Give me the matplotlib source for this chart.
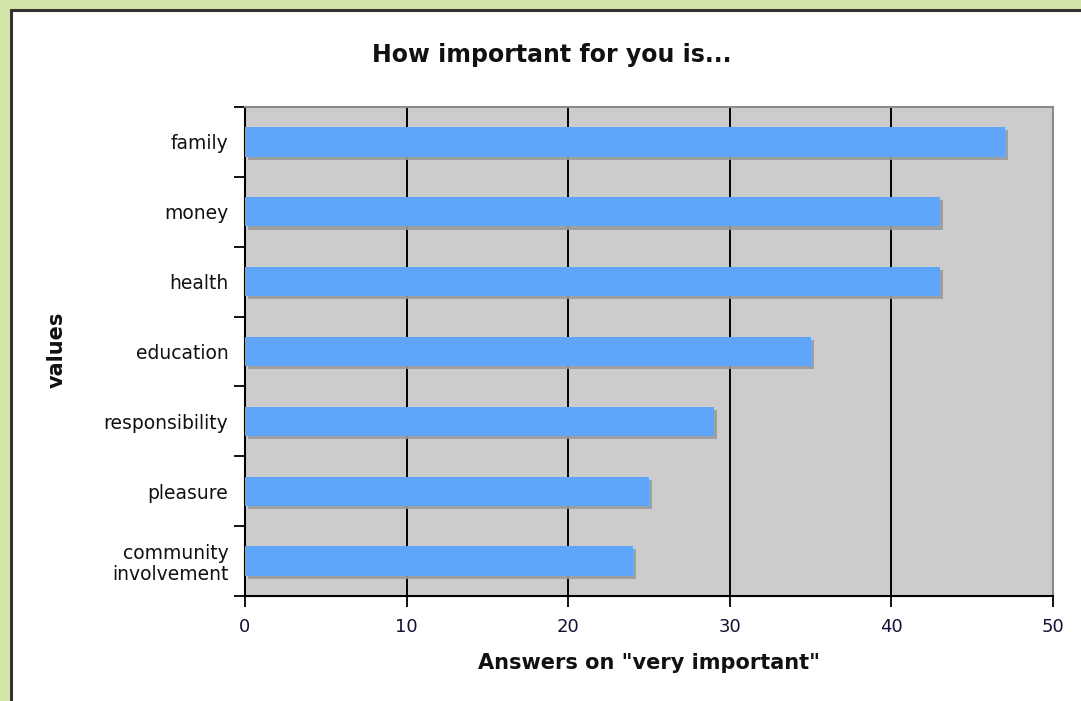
import matplotlib.pyplot as plt
import matplotlib.patheffects as pe
from matplotlib.patches import Rectangle
import numpy as np

# values
categories = ['family', 'money', 'health', 'education', 'responsibility',
              'pleasure', 'community\ninvolvement']
answers = [47, 43, 43, 35, 29, 25, 24]
xticks = [0, 10, 20, 30, 40, 50]

W, H = 1081, 701
fig = plt.figure(figsize=(W / 100, H / 100), dpi=100)
fig.patch.set_facecolor('#d3e8a8')

# white panel with dark frame (cropped on right/bottom)
fig.patches.append(Rectangle((10.5 / W, -0.05), 1.1, (H - 9.5) / H + 0.05,
                             transform=fig.transFigure, facecolor='white',
                             edgecolor='#333333', linewidth=2.2, zorder=-1))

ax = fig.add_axes([245 / W, (H - 596) / H, (1053 - 245) / W, (596 - 107) / H])
ax.set_zorder(2)
ax.set_facecolor('#cccccc')

y = np.arange(len(categories))
bars = ax.barh(y, answers, height=0.42, color='#5fa5fa', zorder=3)
for b in bars:
    b.set_path_effects([pe.SimplePatchShadow(offset=(2.2, -2.2),
                                             shadow_rgbFace='#9a9a9a', alpha=0.9),
                        pe.Normal()])

ax.set_xlim(0, 50)
ax.set_ylim(len(categories) - 0.5, -0.5)
ax.set_xticks(xticks)
ax.set_xticklabels([str(t) for t in xticks], fontsize=13, color='#111133')
ax.set_yticks(y)
ax.set_yticklabels(categories, fontsize=13.5, color='#111111', linespacing=1.1)
ax.set_yticks(np.arange(-0.5, len(categories), 1), minor=True)
ax.tick_params(axis='y', which='major', length=0, pad=12)
ax.tick_params(axis='y', which='minor', length=8, width=1.3, direction='out', color='black')
ax.tick_params(axis='x', length=8, width=1.3, direction='out', color='black', pad=8)

for t in xticks[1:-1]:
    ax.axvline(t, color='black', linewidth=1.4, zorder=2)

for s in ['top', 'right']:
    ax.spines[s].set_color('#8a8a8a')
    ax.spines[s].set_linewidth(1.5)
for s in ['left', 'bottom']:
    ax.spines[s].set_color('black')
    ax.spines[s].set_linewidth(1.5)

fig.text(552 / W, 1 - 55 / H, 'How important for you is...', ha='center', va='center',
         fontsize=17, fontweight='bold', color='#111111')
ax.set_xlabel('Answers on "very important"', fontsize=15, fontweight='bold',
              color='#111111', labelpad=12)
fig.text(57 / W, 1 - 350 / H, 'values', rotation=90, ha='center', va='center',
         fontsize=15, fontweight='bold', color='#111111')

fig.savefig('out.png', dpi=100, facecolor=fig.get_facecolor())
